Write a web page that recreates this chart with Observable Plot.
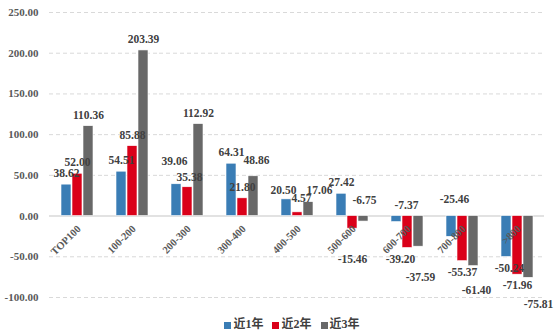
<!DOCTYPE html>
<html><head><meta charset="utf-8">
<script src="https://cdn.jsdelivr.net/npm/d3@7"></script>
<script src="https://cdn.jsdelivr.net/npm/@observablehq/plot@0.6"></script>
<style>
body{margin:0;background:#fff;width:560px;height:334px;overflow:hidden;font-family:"Liberation Serif","Times New Roman",serif;}
#legend{display:flex;justify-content:center;align-items:center;gap:9px;height:22px;font-size:12px;font-weight:bold;color:#404040;font-family:"Liberation Serif","Noto Sans CJK SC",serif;padding-left:24px;}
#legend span.sw{display:inline-block;width:7px;height:7px;margin-right:2px;vertical-align:middle;}
</style></head>
<body><div id="chart"></div><div id="legend"></div>
<script>
const categories = ["TOP100","100-200","200-300","300-400","400-500","500-600","600-700","700-800",">800"];
const seriesNames = ["近1年","近2年","近3年"];
const year1 = [38.62,54.51,39.06,64.31,20.50,27.42,-7.37,-25.46,-50.24];
const year2 = [52.00,85.88,35.38,21.80,4.57,-15.46,-39.20,-55.37,-71.96];
const year3 = [110.36,203.39,112.92,48.86,17.06,-6.75,-37.59,-61.40,-75.81];
const yTicks = [-100,-50,0,50,100,150,200,250];
const colors = ["#3A7DB5","#DA0019","#686868"];

// label nudges (pixel offsets) to avoid collisions, as in the reference
const labelNudge = {
  "200-300|近1年":[-2,-23], "200-300|近2年":[2,-10],
  "300-400|近3年":[3,-16],
  "400-500|近1年":[-3,-9], "400-500|近2年":[4,-14], "400-500|近3年":[11,-12],
  "500-600|近2年":[0,31], "500-600|近3年":[1,-21],
  "600-700|近1年":[10,-17], "600-700|近2年":[-7,11], "600-700|近3年":[2,31],
  "700-800|近1年":[3,-37], "700-800|近3年":[3,24],
  ">800|近1年":[3,11], ">800|近3年":[10,27]
};

const seriesValues = [year1, year2, year3];
const data = [];
categories.forEach((c,i)=>seriesValues.forEach((vals,s)=>data.push({cat:c, series:seriesNames[s], value:vals[i]})));
const nudge = d => labelNudge[d.cat+"|"+d.series] || [0, d.value>=0?-11:11];
const fmt = v => v.toFixed(2);

const fontFam = "'Liberation Serif','Times New Roman',serif";
const chart = Plot.plot({
  width:560, height:312,
  marginLeft:48, marginRight:15, marginTop:12, marginBottom:15,
  style:{fontFamily:fontFam, fontSize:"11px", fontWeight:"bold", color:"#595959", background:"#fff"},
  fx:{domain:categories, padding:0, axis:null},
  x:{domain:seriesNames, paddingInner:0.1, paddingOuter:1.05, axis:null},
  y:{domain:[-100,250], ticks:yTicks, tickFormat:fmt, tickSize:0, tickPadding:11, label:null},
  color:{domain:seriesNames, range:colors},
  marks:[
    Plot.ruleY(yTicks.filter(d=>d!==0), {stroke:"#d9d9d9", strokeDasharray:"4,3", strokeWidth:1}),
    Plot.ruleY([0], {stroke:"#d9d9d9", strokeWidth:1.5}),
    Plot.barY(data, {fx:"cat", x:"series", y:"value", fill:"series", stroke:"#fff", strokeWidth:0.6}),
    Plot.text(categories, {fx:d=>d, y:()=>0, text:d=>d, rotate:-45, textAnchor:"end", dx:2, dy:11, fill:"#595959", fontSize:10.5}),
    ...data.map(d=>{
      const [dx,dy]=nudge(d);
      return Plot.text([d], {fx:"cat", x:"series", y:"value", text:v=>fmt(v.value), dx, dy, fill:"#404040", fontSize:11.5});
    })
  ]
});
document.getElementById("chart").appendChild(chart);
const lg = document.getElementById("legend");
seriesNames.forEach((n,i)=>{
  const it=document.createElement("div");
  it.innerHTML=`<span class="sw" style="background:${colors[i]}"></span>${n}`;
  lg.appendChild(it);
});
</script></body></html>
